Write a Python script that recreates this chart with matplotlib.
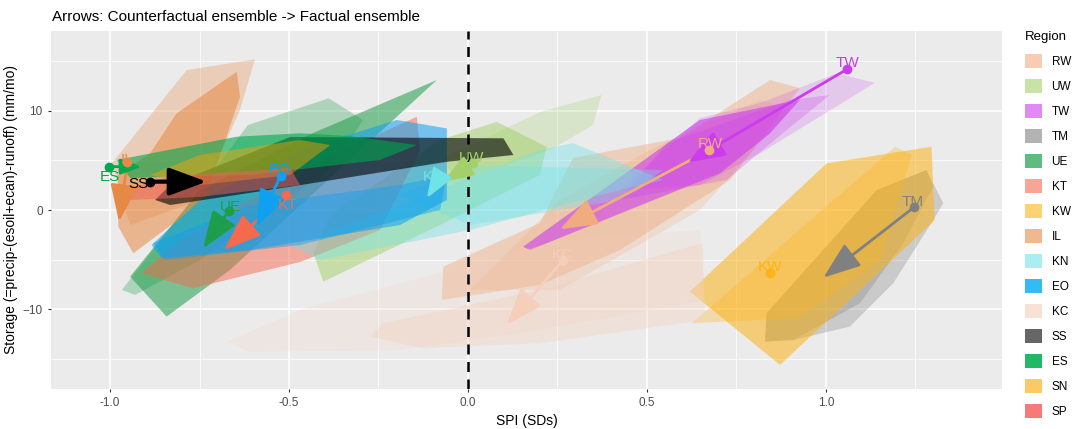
import numpy as np
import matplotlib
matplotlib.use("Agg")
import matplotlib.pyplot as plt
from matplotlib.patches import Patch

plt.rcParams['font.family'] = ['Liberation Sans', 'DejaVu Sans']

# ---------------- data ----------------
regions = ['RW', 'UW', 'TW', 'TM', 'UE', 'KT', 'KW', 'IL', 'KN', 'EO', 'KC', 'SS', 'ES', 'SN', 'SP']

# ensemble hulls (SPI, storage)
RW_h1_x = [-0.073, -0.069, 0.201, 0.293, 0.592, 0.844, 0.927, 0.732, 0.425, 0.201]
RW_h1_y = [-9.05, -5.70, -1.31, 5.23, 7.24, 13.07, 12.26, 3.02, -4.02, -7.54]
RW_h2_x = [0.006, 0.257, 0.508, 0.816, 0.899, 0.648, 0.257]
RW_h2_y = [-8.04, 1.01, 6.03, 11.06, 10.05, 0.0, -8.04]

UW_h1_x = [-0.432, -0.404, -0.050, 0.201, 0.220, 0.080, -0.078, -0.385]
UW_h1_y = [-4.35, -7.21, -1.01, 3.52, 6.36, 8.87, 7.04, -0.50]
UW_h2_x = [-0.078, 0.201, 0.373, 0.349, 0.229, -0.022]
UW_h2_y = [5.03, 9.85, 11.56, 8.54, 6.03, 3.02]

TW_h1_x = [0.154, 0.648, 0.899, 0.927, 0.844, 0.704, 0.173]
TW_h1_y = [-3.69, 9.05, 10.88, 11.06, 7.71, 3.69, -4.02]
TW_h2_x = [0.425, 0.648, 0.816, 1.030, 1.137, 0.816, 0.648]
TW_h2_y = [2.01, 9.25, 10.75, 13.74, 12.79, 5.70, 2.51]
TW_h3_x = [0.425, 0.555, 0.899, 1.011, 0.890, 0.723]
TW_h3_y = [1.01, 6.70, 11.06, 11.56, 8.04, 3.02]

TM_h1_x = [0.830, 0.834, 1.142, 1.281, 1.328, 1.300, 1.188, 1.067, 0.909]
TM_h1_y = [-13.24, -10.38, 2.01, 4.02, 0.67, -1.01, -7.37, -11.73, -13.07]
TM_h2_x = [0.830, 0.834, 1.142, 1.281, 1.300, 1.216, 1.095, 0.909]
TM_h2_y = [-13.24, -10.38, 2.01, 4.02, 2.34, -3.35, -9.38, -13.07]

UE_h1_x = [-0.944, -0.842, -0.665, -0.087, -0.433, -0.749]
UE_h1_y = [-6.70, -10.72, -6.03, 13.07, 7.74, 2.01]
UE_h2_x = [-0.967, -0.749, -0.615, -0.389, -0.293, -0.385, -0.749, -0.930]
UE_h2_y = [-8.04, 2.01, 8.54, 11.23, 9.05, 4.02, -5.03, -8.54]

KT_h1_x = [-0.913, -0.768, -0.469, -0.246, -0.134, -0.143, -0.469, -0.804]
KT_h1_y = [-6.36, -7.87, -5.23, -2.01, 6.03, 9.38, 4.02, -3.02]

KW_h1_x = [0.620, 1.002, 1.295, 1.304, 0.872]
KW_h1_y = [-8.21, 4.69, 6.36, -1.01, -15.58]
KW_h2_x = [0.625, 1.193, 1.240, 1.151, 0.927]
KW_h2_y = [-11.39, 6.36, 5.53, -5.03, -10.85]

IL_h1_x = [-0.888, -0.814, -0.646, -0.637, -0.735, -0.935, -0.977, -0.978]
IL_h1_y = [5.70, 9.72, 13.90, 11.39, 1.01, -4.35, -1.68, 3.52]
IL_h2_x = [-0.995, -0.786, -0.595, -0.637, -0.749, -0.944]
IL_h2_y = [4.69, 14.07, 15.15, 10.05, 1.01, -1.51]

KN_h1_x = [-0.497, -0.190, 0.201, 0.293, 0.545, 0.369, 0.006, -0.413]
KN_h1_y = [-3.52, 0.50, 6.03, 6.73, 3.02, 1.51, -2.01, -5.03]
KN_h2_x = [-0.190, 0.006, 0.545, 0.425, 0.006]
KN_h2_y = [1.51, 4.52, 4.02, 1.01, -1.51]

EO_h1_x = [-0.884, -0.749, -0.469, -0.199, -0.059, -0.059, -0.190, -0.609, -0.855]
EO_h1_y = [-3.52, 1.01, 6.03, 9.05, 8.21, 1.01, -1.51, -4.02, -4.85]
EO_h2_x = [-0.880, -0.609, -0.190, -0.059, -0.078, -0.469, -0.846]
EO_h2_y = [-3.32, 0.50, 2.51, 3.52, 0.0, -3.52, -5.03]

KC_h1_x = [-0.274, -0.237, 0.201, 0.656, 0.662, 0.201, -0.126]
KC_h1_y = [-12.73, -11.39, -8.04, -3.32, -11.06, -13.40, -13.90]
KC_h2_x = [-0.673, -0.469, -0.050, 0.257, 0.648, 0.662, 0.201, -0.190, -0.609]
KC_h2_y = [-13.24, -10.05, -6.03, -3.02, -2.01, -9.05, -12.06, -14.07, -14.27]

SS_h1_x = [-0.874, -0.832, -0.497, 0.099, 0.127, -0.059, -0.497, -0.832]
SS_h1_y = [1.01, 2.51, 7.34, 7.21, 5.53, 4.85, 2.34, 0.50]

ES_h1_x = [-0.981, -0.646, -0.469, -0.330, -0.143, -0.246, -0.609, -0.944]
ES_h1_y = [5.03, 7.37, 7.71, 7.44, 6.53, 5.03, 3.52, 3.22]

SN_h1_x = [-0.888, -0.749, -0.469, -0.385, -0.497, -0.749]
SN_h1_y = [3.52, 5.53, 7.04, 6.53, 3.52, 2.51]

SP_h1_x = [-0.958, -0.832, -0.497, -0.469, -0.749, -0.944]
SP_h1_y = [2.01, 3.42, 4.22, 2.51, 1.31, 1.01]

# ensemble means: counterfactual (start) -> factual (end), per region in `regions` order
cf_x = [0.674, 0.015, 1.060, 1.246, -0.668, -0.509, 0.845, -0.952, -0.078, -0.523, 0.266, -0.888, -1.002, np.nan, np.nan]
cf_y = [6.03, 4.69, 14.17, 0.27, -0.07, 1.51, -6.37, 4.79, 3.35, 3.45, -5.03, 2.85, 4.36, np.nan, np.nan]
f_x = [0.257, -0.069, 0.615, 0.993, -0.740, -0.682, 0.845, -0.975, -0.115, -0.591, 0.108, -0.730, -0.912, np.nan, np.nan]
f_y = [-1.94, 2.85, 4.79, -6.80, -3.85, -4.02, -6.37, -1.17, 1.17, -1.68, -11.56, 2.85, 4.36, np.nan, np.nan]

label_x = [0.676, 0.010, 1.059, 1.243, -0.665, -0.503, 0.844, -0.953, -0.098, -0.527, 0.263, -0.921, -1.000, np.nan, np.nan]
label_y = [6.60, 5.20, 14.74, 0.83, 0.33, 0.50, -5.76, 5.00, 3.35, 4.02, -4.52, 2.61, 3.35, np.nan, np.nan]

# ---------------- styles ----------------
base_col = {
    'RW': '#F0AC7F', 'UW': '#A3D069', 'TW': '#CB3CEE', 'TM': '#808080', 'UE': '#1E9E4A',
    'KT': '#F5694E', 'KW': '#FCB419', 'IL': '#E68944', 'KN': '#70E3E6', 'EO': '#10A0F0',
    'KC': '#F5CFBC', 'SS': '#000000', 'ES': '#00A84F', 'SN': '#FCA300', 'SP': '#F06060'}
legend_col = {
    'RW': '#F6CDB2', 'UW': '#C8E3A5', 'TW': '#E08AF5', 'TM': '#B3B3B3', 'UE': '#5FBB80',
    'KT': '#F9A595', 'KW': '#FDD275', 'IL': '#F0B88F', 'KN': '#A9EEF0', 'EO': '#33BBF5',
    'KC': '#F9E2D5', 'SS': '#666666', 'ES': '#23B868', 'SN': '#FDC866', 'SP': '#F77A7A'}
head_scale = {'ES': 0.55, 'UW': 0.8, 'KN': 0.8}

hulls = [
    ('RW', RW_h1_x, RW_h1_y, 0.45), ('RW', RW_h2_x, RW_h2_y, 0.25),
    ('UW', UW_h1_x, UW_h1_y, 0.5), ('UW', UW_h2_x, UW_h2_y, 0.25),
    ('TW', TW_h1_x, TW_h1_y, 0.6), ('TW', TW_h2_x, TW_h2_y, 0.2), ('TW', TW_h3_x, TW_h3_y, 0.25),
    ('TM', TM_h1_x, TM_h1_y, 0.3), ('TM', TM_h2_x, TM_h2_y, 0.3),
    ('UE', UE_h1_x, UE_h1_y, 0.55), ('UE', UE_h2_x, UE_h2_y, 0.3),
    ('KT', KT_h1_x, KT_h1_y, 0.5),
    ('KW', KW_h1_x, KW_h1_y, 0.55), ('KW', KW_h2_x, KW_h2_y, 0.3),
    ('IL', IL_h1_x, IL_h1_y, 0.55), ('IL', IL_h2_x, IL_h2_y, 0.3),
    ('KN', KN_h1_x, KN_h1_y, 0.4), ('KN', KN_h2_x, KN_h2_y, 0.35),
    ('EO', EO_h1_x, EO_h1_y, 0.55), ('EO', EO_h2_x, EO_h2_y, 0.45),
    ('KC', KC_h1_x, KC_h1_y, 0.35), ('KC', KC_h2_x, KC_h2_y, 0.2),
    ('SS', SS_h1_x, SS_h1_y, 0.6),
    ('ES', ES_h1_x, ES_h1_y, 0.6),
    ('SN', SN_h1_x, SN_h1_y, 0.45),
    ('SP', SP_h1_x, SP_h1_y, 0.5),
]

# ---------------- figure ----------------
fig = plt.figure(figsize=(10.75, 4.29), dpi=100)
ax = fig.add_axes([51 / 1075, 1 - 389 / 429, (1002 - 51) / 1075, (389 - 31) / 429])
ax.set_facecolor('#EBEBEB')
for s in ax.spines.values():
    s.set_visible(False)

ax.set_xlim(-1.165, 1.492)
ax.set_ylim(-18.0, 18.0)
ax.set_xticks([-1.0, -0.5, 0.0, 0.5, 1.0])
ax.set_xticklabels(['-1.0', '-0.5', '0.0', '0.5', '1.0'])
ax.set_xticks([-0.75, -0.25, 0.25, 0.75, 1.25], minor=True)
ax.set_yticks([-10, 0, 10])
ax.set_yticks([-15, -5, 5, 15], minor=True)
ax.grid(which='major', color='white', lw=1.1)
ax.grid(which='minor', color='white', lw=0.55)
ax.set_axisbelow(True)
ax.tick_params(which='major', length=2.5, width=0.8, color='#333333', labelcolor='#4D4D4D',
               labelsize=8.5, pad=3.5)
ax.tick_params(which='minor', length=0)

for reg, hx, hy, a in hulls:
    ax.fill(hx, hy, color=base_col[reg], alpha=a, lw=0, zorder=2)

ax.axvline(0, color='black', lw=1.8, ls=(0, (4, 3)), zorder=3)

for i, reg in enumerate(regions):
    if np.isnan(cf_x[i]):
        continue
    c = base_col[reg]
    if (cf_x[i], cf_y[i]) != (f_x[i], f_y[i]):
        lw = 3.0 if reg == 'SS' else 2.0
        k = head_scale.get(reg, 1.0)
        ax.annotate('', xy=(f_x[i], f_y[i]), xytext=(cf_x[i], cf_y[i]),
                    arrowprops=dict(arrowstyle=f'-|>,head_length={2.3 * k:.2f},head_width={0.85 * k:.2f}',
                                    color=c, lw=lw, shrinkA=0, shrinkB=0, mutation_scale=10),
                    zorder=4)
    ax.plot(cf_x[i], cf_y[i], 'o', color=c, ms=6, zorder=5)
    ax.text(label_x[i], label_y[i], reg, color=c, fontsize=11, ha='center', va='center', zorder=6)

ax.set_xlabel('SPI (SDs)', fontsize=10, color='black', labelpad=3)
ax.set_ylabel('Storage (=precip-(esoil+ecan)-runoff) (mm/mo)', fontsize=10, color='black', labelpad=3)
fig.text(52 / 1075, 1 - 17 / 429, 'Arrows: Counterfactual ensemble -> Factual ensemble',
         fontsize=11, ha='left', va='center')

handles = [Patch(facecolor=legend_col[r], edgecolor='none', label=r) for r in regions]
leg = fig.legend(handles=handles, title='Region', loc='upper left',
                 bbox_to_anchor=(1025 / 1075, 1 - 31 / 429), frameon=False,
                 fontsize=8.5, title_fontsize=9.5, handlelength=1.45, handleheight=1.45,
                 labelspacing=0.93, handletextpad=0.8, borderaxespad=0, borderpad=0)
leg._legend_box.align = 'left'

fig.savefig('out.png', dpi=100)
